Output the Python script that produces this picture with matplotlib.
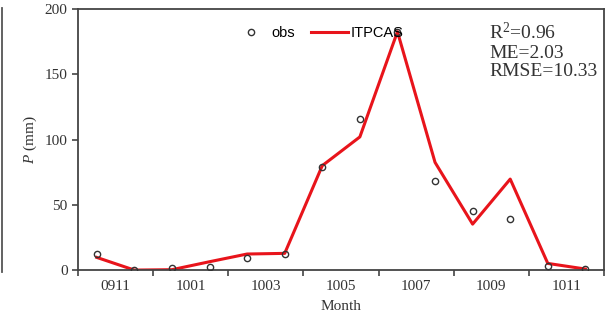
import matplotlib
matplotlib.use("Agg")
import matplotlib.pyplot as plt
import numpy as np
from matplotlib.lines import Line2D

months = ["0911", "0912", "1001", "1002", "1003", "1004", "1005",
          "1006", "1007", "1008", "1009", "1010", "1011", "1012"]
obs = [12.3, 0, 1.5, 2.5, 9.5, 12.3, 79, 115.7, 182, 68, 45.5, 39.3, 3.3, 0.8]
itpcas = [9.7, 0, 0.3, 6.4, 12.3, 12.8, 80, 102, 182.6, 82.5, 35.2, 69.7, 5.1, 0.8]
tick_labels = ["0911", "1001", "1003", "1005", "1007", "1009", "1011"]

serif = "Liberation Serif"
sans = "Liberation Sans"
plt.rcParams["mathtext.fontset"] = "custom"
plt.rcParams["mathtext.it"] = "Liberation Serif:italic"
plt.rcParams["mathtext.rm"] = "Liberation Serif"

fig = plt.figure(figsize=(6.14, 3.2), dpi=100)
ax = fig.add_axes([0.127, 0.156, 0.857, 0.816])

x = np.arange(len(months))
ax.plot(x, itpcas, color="#e8141b", lw=2.2, label="ITPCAS", zorder=2)
ax.plot(x, obs, "o", mfc="none", mec="#333333", ms=4.5, mew=1.0,
        label="obs", zorder=3)

ax.set_xlim(-0.5, len(months) - 0.5)
ax.set_ylim(0, 200)
ax.set_yticks(np.arange(0, 201, 50))

# major ticks at group boundaries, labels centred on each 2-month group
ax.set_xticks(np.arange(-0.5, len(months), 2))
ax.set_xticklabels([])
ax.set_xticks(np.arange(0.5, len(months), 2), minor=True)
ax.set_xticklabels(tick_labels, minor=True, fontfamily=serif, fontsize=11,
                   color="#333333")
ax.tick_params(axis="x", which="minor", length=0, pad=7)
ax.tick_params(axis="x", which="major", length=4, width=1.2, color="#444444",
               direction="out")
ax.tick_params(axis="y", length=4, width=1.2, color="#444444",
               direction="out", labelsize=11, labelcolor="#333333")
for lab in ax.get_yticklabels():
    lab.set_fontfamily(serif)

for s in ax.spines.values():
    s.set_color("#444444")
    s.set_linewidth(1.3)

ax.set_xlabel("Month", fontfamily=serif, fontsize=11, color="#333333",
              labelpad=5)
ax.set_ylabel(r"$P$ (mm)", fontfamily=serif, fontsize=11, color="#333333")

handles, labels = ax.get_legend_handles_labels()
ax.legend(handles[::-1], labels[::-1], loc="upper left",
          bbox_to_anchor=(0.27, 0.985), ncol=2, frameon=False,
          prop={"family": sans, "size": 10.5}, handlelength=2.5,
          columnspacing=1.1, handletextpad=0.15)

ax.text(0.782, 0.95, "R$^2$=0.96\nME=2.03\nRMSE=10.33",
        transform=ax.transAxes, ha="left", va="top", fontfamily=serif,
        fontsize=14, color="#333333", linespacing=1.1)

fig.add_artist(Line2D([0.004, 0.004], [0.15, 0.975], color="#555555",
                      lw=1.3, transform=fig.transFigure))

fig.savefig("out.png", dpi=100)
